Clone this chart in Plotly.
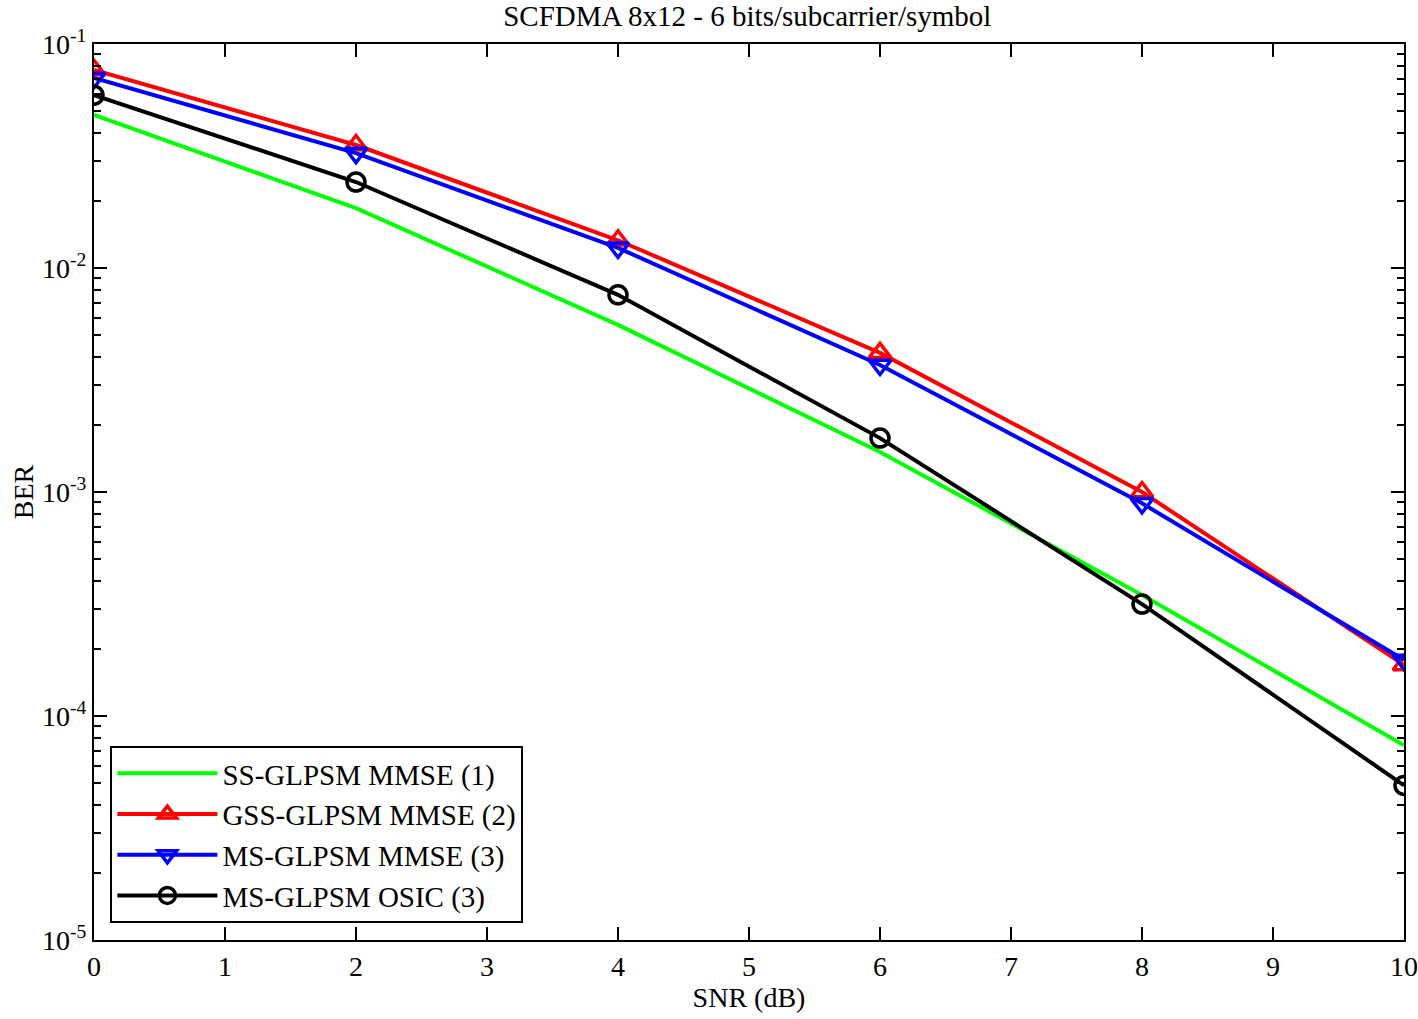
import plotly.graph_objects as go

snr = [0, 2, 4, 6, 8, 10]
ss_mmse = [0.0482, 0.0185, 0.00557, 0.00151, 3.47e-4, 7.4e-5]
gss_mmse = [0.0766, 0.0354, 0.0133, 0.00418, 1.0e-3, 1.69e-4]
ms_mmse = [0.0705, 0.0326, 0.0123, 0.00369, 8.9e-4, 1.78e-4]
ms_osic = [0.0591, 0.0242, 0.00759, 0.00174, 3.16e-4, 4.9e-5]

x_ticks = list(range(0, 11))
y_tickvals = [1e-5, 1e-4, 1e-3, 1e-2, 1e-1]
y_ticktext = ["10<sup>-5</sup>", "10<sup>-4</sup>", "10<sup>-3</sup>", "10<sup>-2</sup>", "10<sup>-1</sup>"]
minor_mantissas = [2, 3, 4, 5, 6, 7, 8, 9]
y_minor = [m * d for d in y_tickvals[:-1] for m in minor_mantissas]

FONT = "Liberation Serif, Times New Roman, serif"
W, H = 1418, 1019

fig = go.Figure()
fig.add_trace(go.Scatter(x=snr, y=ss_mmse, mode="lines", name="SS-GLPSM MMSE (1)",
                         line=dict(color="#00ff00", width=4)))
fig.add_trace(go.Scatter(x=snr, y=gss_mmse, mode="lines+markers", name="GSS-GLPSM MMSE (2)",
                         line=dict(color="#ff0000", width=4),
                         marker=dict(symbol="triangle-up-open", size=19, line=dict(width=3.5, color="#ff0000"))))
fig.add_trace(go.Scatter(x=snr, y=ms_mmse, mode="lines+markers", name="MS-GLPSM MMSE (3)",
                         line=dict(color="#0000ff", width=4),
                         marker=dict(symbol="triangle-down-open", size=19, line=dict(width=3.5, color="#0000ff"))))
fig.add_trace(go.Scatter(x=snr, y=ms_osic, mode="lines+markers", name="MS-GLPSM OSIC (3)",
                         line=dict(color="#000000", width=4),
                         marker=dict(symbol="circle-open", size=18, line=dict(width=3.5, color="#000000"))))

fig.update_layout(
    width=W, height=H,
    paper_bgcolor="white", plot_bgcolor="white",
    margin=dict(l=94, r=14, t=44, b=79, autoexpand=False),
    font=dict(family=FONT, size=28, color="black"),
    title=dict(text="SCFDMA 8x12 - 6 bits/subcarrier/symbol", x=0.527, xanchor="center",
               y=1 - 16 / H, yanchor="middle", automargin=False,
               font=dict(family=FONT, size=29)),
    legend=dict(x=0.0125, y=0.2165, xanchor="left", yanchor="top",
                bgcolor="white", bordercolor="black", borderwidth=2,
                font=dict(family=FONT, size=29), tracegroupgap=0, itemwidth=100),
    showlegend=True,
)
fig.update_xaxes(
    range=[0, 10], tickvals=x_ticks, ticks="inside", ticklen=13, tickwidth=2, tickcolor="black",
    showline=True, linecolor="black", linewidth=2, mirror="allticks", showgrid=False, zeroline=False,
    title=dict(text="SNR (dB)", font=dict(family=FONT, size=28), standoff=4),
    tickfont=dict(family=FONT, size=28), automargin=False,
)
fig.update_yaxes(
    type="log", range=[-5, -1], tickvals=y_tickvals, ticktext=y_ticktext,
    ticks="inside", ticklen=13, tickwidth=2, tickcolor="black",
    minor=dict(tickvals=y_minor, ticks="inside", ticklen=7, tickwidth=2, tickcolor="black", showgrid=False),
    showline=True, linecolor="black", linewidth=2, mirror="allticks", showgrid=False, zeroline=False,
    title=dict(text="BER", font=dict(family=FONT, size=28), standoff=0),
    tickfont=dict(family=FONT, size=28), automargin=False,
)

fig.write_html("out.html", config={"displayModeBar": False},
               post_script="document.body.style.margin='0px';document.body.style.overflow='hidden';")
